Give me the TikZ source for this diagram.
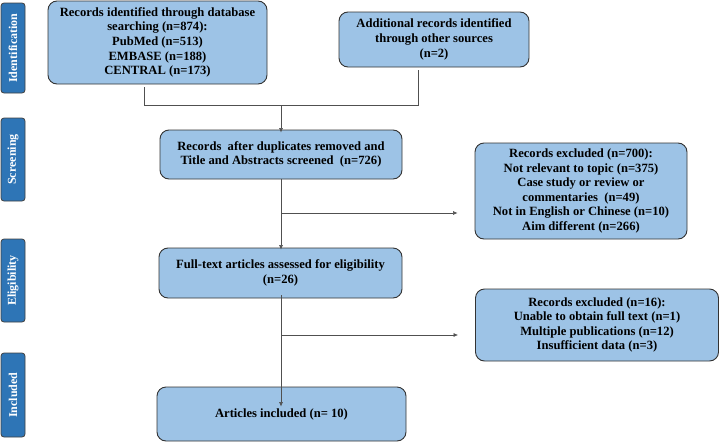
\documentclass[tikz,border=0pt]{standalone}
\usepackage{fontspec}
\setmainfont{Liberation Serif}
\usetikzlibrary{arrows.meta}
\definecolor{boxblue}{HTML}{9DC3E6}
\definecolor{sideblue}{HTML}{2E75B6}
\definecolor{lineg}{HTML}{505050}
\tikzset{
  stagebox/.style={draw=black!80, fill=boxblue, rounded corners=9pt, line width=0.9pt,
    align=center, font=\bfseries\fontsize{12.6}{14.6}\selectfont, inner sep=2pt},
  sidebox/.style={draw=black!75, fill=sideblue, rounded corners=3pt, line width=0.8pt,
    text=white, font=\bfseries\fontsize{12}{13}\selectfont, rotate=90, inner sep=0pt},
  link/.style={draw=lineg, line width=0.6pt},
  flow/.style={link, -{Latex[length=4.5pt,width=4pt]}}
}
\begin{document}
\begin{tikzpicture}[x=1pt,y=-1pt]
\useasboundingbox (0,0) rectangle (720,442);
% stage labels
\node[sidebox, minimum width=90pt, minimum height=24pt] (ident) at (13,48) {Identification};
\node[sidebox, minimum width=83pt, minimum height=24pt] (screen) at (13,159.5) {Screening};
\node[sidebox, minimum width=83pt, minimum height=24pt] (elig) at (13,280.5) {Eligibility};
\node[sidebox, minimum width=84pt, minimum height=24pt] (incl) at (13,395) {Included};
% boxes
\node[stagebox, minimum width=219pt, minimum height=83pt] (db) at (157.5,42.5)
  {Records identified through database\\searching (n=874):\\PubMed (n=513)\\EMBASE (n=188)\\CENTRAL (n=173)};
\node[stagebox, minimum width=190pt, minimum height=55pt] (other) at (434,39.5)
  {Additional records identified\\through other sources\\(n=2)};
\node[stagebox, minimum width=242pt, minimum height=49pt] (dup) at (281,154.5)
  {Records\ \ after duplicates removed and\\Title and Abstracts screened\ \ (n=726)};
\node[stagebox, minimum width=212pt, minimum height=96pt] (excla) at (581,191)
  {Records excluded (n=700):\\Not relevant to topic (n=375)\\Case study or review or\\commentaries\ \ (n=49)\\Not in English or Chinese (n=10)\\Aim different (n=266)};
\node[stagebox, minimum width=243pt, minimum height=50pt] (full) at (280.5,273)
  {Full-text articles assessed for eligibility\\(n=26)};
\node[stagebox, minimum width=243pt, minimum height=72pt] (exclb) at (597,325)
  {Records excluded (n=16):\\Unable to obtain full text (n=1)\\Multiple publications (n=12)\\Insufficient data (n=3)};
\node[stagebox, minimum width=249pt, minimum height=54pt] (incd) at (281.5,414)
  {Articles included (n= 10)};
% connectors
\coordinate (jl) at (144,105);
\coordinate (jr) at (418,105);
\coordinate (jm) at (281,105);
\coordinate (ja) at (281,213);
\coordinate (jb) at (281,335);
\draw[link] ([yshift=-3pt]db.south -| jl) -- (jl) -- (jr) -- ([yshift=-3pt]other.south -| jr);
\draw[flow] (jm) -- ([yshift=-3pt]dup.north -| jm);
\draw[flow] (dup.south -| jm) -- ([yshift=-2pt]full.north -| jm);
\draw[flow] (ja) -- ([xshift=-17pt]excla.west |- ja);
\draw[flow] ([yshift=3pt]full.south -| jm) -- ([yshift=-20pt]incd.north -| jm);
\draw[flow] (jb) -- ([xshift=-17pt]exclb.west |- jb);
\end{tikzpicture}
\end{document}
